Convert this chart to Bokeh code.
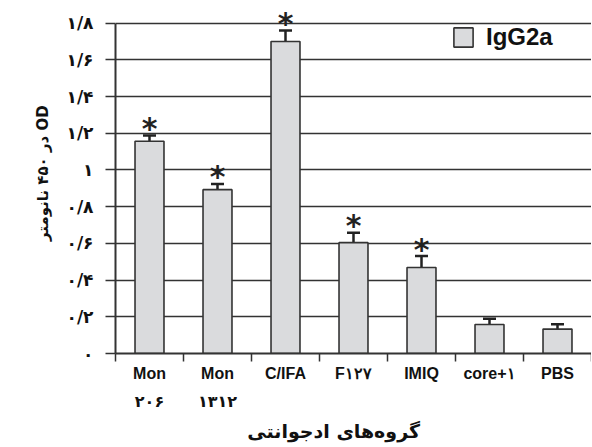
from bokeh.plotting import figure
from bokeh.models import ColumnDataSource, FixedTicker, Whisker, TeeHead, Range1d, LinearAxis
from bokeh.core.properties import value
from bokeh.embed import file_html
from bokeh.resources import INLINE

groups_line1 = ["Mon", "Mon", "C/IFA", "F۱۲۷", "IMIQ", "core+۱", "PBS"]
groups_line2 = ["۲۰۶", "۱۳۱۲", "", "", "", "", ""]
means = [1.157, 0.893, 1.700, 0.604, 0.469, 0.158, 0.133]
errors = [0.031, 0.031, 0.060, 0.054, 0.062, 0.031, 0.027]
significant = [True, True, True, True, True, False, False]
y_ticks = [0.0, 0.2, 0.4, 0.6, 0.8, 1.0, 1.2, 1.4, 1.6, 1.8]
y_tick_labels = ["۰", "۰/۲", "۰/۴", "۰/۶", "۰/۸", "۱", "۱/۲", "۱/۴", "۱/۶", "۱/۸"]
series_name = "IgG2a"
x_title = "گروه‌های ادجوانتی"
y_title = "OD در ۴۵۰ نانومتر"

n = len(groups_line1)
xs = [i + 0.5 for i in range(n)]
src = ColumnDataSource(dict(x=xs, top=means, upper=[m + e for m, e in zip(means, errors)]))
star_src = ColumnDataSource(dict(
    x=[x for x, s in zip(xs, significant) if s],
    y=[m + e for m, e, s in zip(means, errors, significant) if s],
))

p = figure(width=591, height=446, x_range=Range1d(0, n), y_range=Range1d(0, 1.88),
           output_backend="svg", toolbar_location=None,
           min_border_left=115, min_border_right=0, min_border_top=8, min_border_bottom=93)
p.outline_line_color = None
p.background_fill_color = "white"

dark = "#333333"
p.vbar(x="x", top="top", width=0.426, source=src, fill_color="#dadbdd",
       line_color=dark, line_width=1.6, legend_label=series_name)

wh = Whisker(base="x", lower="top", upper="upper", source=src, line_width=2.5, line_color="#222222",
             upper_head=TeeHead(size=13, line_width=2.5, line_color="#222222"), lower_head=None)
p.add_layout(wh)

p.text(x="x", y="y", source=star_src, text=value("*"), text_align="center", text_baseline="middle",
       y_offset=-7, text_font=value("DejaVu Sans"), text_font_style="bold",
       text_font_size="30px", text_color="#222222")

# x axis (first line of labels + boundary ticks)
xa = p.xaxis[0]
xa.ticker = FixedTicker(ticks=xs, minor_ticks=list(range(n + 1)))
xa.major_label_overrides = {x: g for x, g in zip(xs, groups_line1)}
xa.major_tick_line_color = None
xa.major_tick_out = 0
xa.major_tick_in = 0
xa.minor_tick_out = 8
xa.minor_tick_in = 0
xa.minor_tick_line_color = dark
xa.minor_tick_line_width = 1.5
xa.axis_line_color = dark
xa.axis_line_width = 2
xa.major_label_standoff = 3
xa.major_label_text_font = "Liberation Sans"
xa.major_label_text_font_style = "bold"
xa.major_label_text_font_size = "16px"
xa.major_label_text_color = "#111111"

# second line of labels + title
xa2 = LinearAxis(ticker=FixedTicker(ticks=xs, minor_ticks=[]),
                 major_label_overrides={x: g for x, g in zip(xs, groups_line2)})
xa2.axis_line_color = None
xa2.major_tick_line_color = None
xa2.minor_tick_line_color = None
xa2.major_tick_out = 0
xa2.major_tick_in = 0
xa2.minor_tick_out = 0
xa2.major_label_standoff = 7
xa2.major_label_text_font = "DejaVu Sans"
xa2.major_label_text_font_style = "bold"
xa2.major_label_text_font_size = "16px"
xa2.major_label_text_color = "#111111"
xa2.axis_label = "\u202b" + "\u00a0" * 6 + x_title + "\u202c"
xa2.axis_label_text_font = "DejaVu Sans"
xa2.axis_label_text_font_style = "bold"
xa2.axis_label_text_font_size = "19px"
xa2.axis_label_text_color = "#111111"
xa2.axis_label_standoff = 6
p.add_layout(xa2, "below")

# y axis
ya = p.yaxis[0]
ya.ticker = FixedTicker(ticks=y_ticks)
ya.major_label_overrides = {t: "\u200e" + l for t, l in zip(y_ticks, y_tick_labels)}
ya.bounds = (0, 1.8)
ya.major_tick_out = 10
ya.major_tick_in = 0
ya.major_tick_line_color = dark
ya.major_tick_line_width = 1.5
ya.minor_tick_line_color = None
ya.axis_line_color = dark
ya.axis_line_width = 2
ya.major_label_standoff = 12
ya.major_label_text_font = "DejaVu Sans"
ya.major_label_text_font_style = "bold"
ya.major_label_text_font_size = "17px"
ya.major_label_text_color = "#111111"
ya.axis_label = "\u202b" + y_title + "\u00a0" * 3 + "\u202c"
ya.axis_label_text_font = "DejaVu Sans"
ya.axis_label_text_font_style = "bold"
ya.axis_label_text_font_size = "15px"
ya.axis_label_text_color = "#111111"
ya.axis_label_standoff = 12

p.xgrid.grid_line_color = None
p.ygrid.ticker = FixedTicker(ticks=y_ticks)
p.ygrid.grid_line_color = dark
p.ygrid.grid_line_width = 1.5

leg = p.legend[0]
leg.location = (336, 302)
leg.border_line_color = None
leg.background_fill_alpha = 0
leg.padding = 5
leg.margin = 0
leg.glyph_width = 24
leg.glyph_height = 24
leg.label_height = 24
leg.label_standoff = 11
leg.label_text_font = "Liberation Sans"
leg.label_text_font_style = "bold"
leg.label_text_font_size = "24px"
leg.label_text_color = "#111111"

open("out.html", "w").write(file_html(p, INLINE))
